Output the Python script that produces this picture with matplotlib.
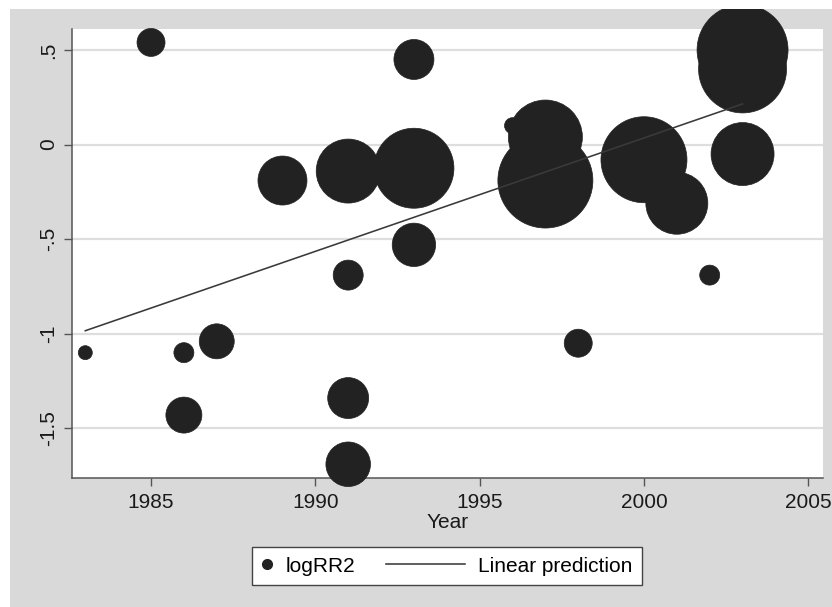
import numpy as np
import matplotlib
matplotlib.use('Agg')
import matplotlib.pyplot as plt
from matplotlib.patches import Rectangle
from matplotlib.lines import Line2D
from matplotlib.legend_handler import HandlerBase

plt.rcParams['font.family'] = ['Liberation Sans', 'DejaVu Sans']

# study year, log relative risk and study weight (bubble area)
years = [1983, 1985, 1986, 1986, 1987, 1989, 1991, 1991, 1991, 1991, 1993, 1993,
         1993, 1996, 1997, 1997, 1998, 2000, 2001, 2002, 2003, 2003, 2003]
logrr2 = [-1.10, 0.54, -1.10, -1.43, -1.04, -0.19, -0.14, -0.69, -1.34, -1.69, 0.45, -0.125,
          -0.53, 0.10, 0.04, -0.19, -1.05, -0.08, -0.31, -0.69, 0.50, 0.40, -0.05]
weights = [0.49, 1.96, 1.00, 3.24, 3.06, 6.00, 10.24, 2.25, 4.20, 4.97, 4.00, 16.00,
           4.71, 0.64, 13.69, 22.56, 1.96, 18.49, 9.61, 1.00, 20.70, 19.36, 9.92]

# fitted line (weighted linear prediction) at the ends of the year range
fit_years = [1983, 2003]
fit_logrr = [-0.984, 0.215]

x_ticks = [1985, 1990, 1995, 2000, 2005]
y_ticks = [-1.5, -1.0, -0.5, 0.0, 0.5]
y_ticklabels = ['-1.5', '-1', '-.5', '0', '.5']

BG = '#d9d9d9'
DOT = '#222222'
AXC = '#555555'


class DotHandler(HandlerBase):
    # single dot with a narrow handle box
    def legend_artist(self, legend, orig_handle, fontsize, handlebox):
        handlebox.width = 0.55 * fontsize
        x = handlebox.width / 2 - handlebox.xdescent
        y = handlebox.height / 2 - handlebox.ydescent
        dot = Line2D([x], [y], marker='o', markersize=7, color=DOT, linestyle='none',
                     transform=handlebox.get_transform())
        handlebox.add_artist(dot)
        return dot


fig = plt.figure(figsize=(8.32, 6.07), dpi=100, facecolor=BG)
ax = fig.add_axes([0.0862, 0.2130, 0.9026, 0.7392])
ax.set_facecolor('white')

sizes = np.array(weights) * 207.36
sc = ax.scatter(years, logrr2, s=sizes, color=DOT, edgecolors=DOT, linewidths=0.5,
                clip_on=False, zorder=5)
ln, = ax.plot(fit_years, fit_logrr, color='#3a3a3a', lw=1.15, zorder=6)

ax.set_xlim(1982.587, 2005.438)
ax.set_ylim(-1.761, 0.611)
ax.set_xticks(x_ticks)
ax.set_yticks(y_ticks)
ax.set_yticklabels(y_ticklabels, rotation=90, va='center')
ax.tick_params(direction='out', length=5.8, width=1.0, color=AXC, labelsize=15,
               labelcolor='#1a1a1a')
ax.tick_params(axis='x', pad=5.5)
ax.tick_params(axis='y', pad=4)
ax.grid(axis='y', color='#dedede', lw=1.6, zorder=0)
ax.set_axisbelow(True)
for side in ['top', 'right']:
    ax.spines[side].set_visible(False)
for side in ['left', 'bottom']:
    ax.spines[side].set_color(AXC)
    ax.spines[side].set_linewidth(1.1)
ax.set_xlabel('Year', fontsize=15, color='#1a1a1a', labelpad=0.5)

leg = fig.legend([sc, ln], ['logRR2', 'Linear prediction'], handler_map={sc: DotHandler()},
                 loc='center', bbox_to_anchor=(0.5371, 0.0675), ncol=2, fontsize=15,
                 handlelength=3.8, handletextpad=0.6, columnspacing=1.5, borderpad=0.45,
                 fancybox=False, framealpha=1, edgecolor='#444444')
leg.get_frame().set_linewidth(1.0)

# white strips along the top and left edges
fig.patches.append(Rectangle((0, 1 - 9 / 607), 1, 9 / 607, transform=fig.transFigure,
                             facecolor='white', edgecolor='none', zorder=20))
fig.patches.append(Rectangle((0, 0), 10 / 832, 1, transform=fig.transFigure,
                             facecolor='white', edgecolor='none', zorder=20))

plt.savefig('out.png', dpi=100, facecolor=BG)
